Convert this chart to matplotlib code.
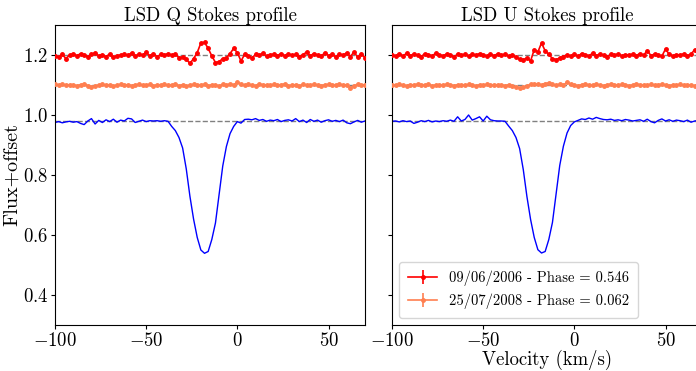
import numpy as np
import matplotlib
matplotlib.use('Agg')
import matplotlib.pyplot as plt

plt.rcParams['font.family'] = 'serif'
plt.rcParams['font.serif'] = ['cmr10']
plt.rcParams['mathtext.fontset'] = 'cm'
plt.rcParams['axes.formatter.use_mathtext'] = True

# LSD velocity grid (km/s)
velocity = np.arange(-100, 71, 2)

# Stokes I (flux) shown under each panel
flux_q = [0.975, 0.978, 0.974, 0.977, 0.979, 0.976, 0.978, 0.972, 0.968, 0.980,
          0.988, 0.970, 0.982, 0.975, 0.984, 0.978, 0.986, 0.976, 0.983, 0.980,
          0.989, 0.987, 0.975, 0.979, 0.983, 0.978, 0.981, 0.980, 0.981, 0.979,
          0.981, 0.979, 0.962, 0.948, 0.925, 0.890, 0.820, 0.729, 0.653, 0.592,
          0.550, 0.539, 0.545, 0.585, 0.640, 0.735, 0.830, 0.895, 0.938, 0.962,
          0.978, 0.973, 0.985, 0.986, 0.984, 0.988, 0.982, 0.985, 0.979, 0.983,
          0.981, 0.985, 0.978, 0.982, 0.984, 0.980, 0.988, 0.978, 0.983, 0.975,
          0.985, 0.979, 0.983, 0.976, 0.981, 0.984, 0.979, 0.982, 0.978, 0.983,
          0.974, 0.971, 0.977, 0.982, 0.976, 0.980]
flux_u = [0.979, 0.980, 0.977, 0.981, 0.978, 0.980, 0.972, 0.976, 0.981, 0.978,
          0.982, 0.977, 0.980, 0.978, 0.981, 0.979, 0.983, 0.979, 0.994, 0.980,
          0.985, 1.000, 0.983, 0.988, 0.994, 0.980, 0.996, 0.984, 0.981, 0.980,
          0.980, 0.979, 0.963, 0.948, 0.925, 0.888, 0.818, 0.728, 0.652, 0.592,
          0.551, 0.540, 0.545, 0.585, 0.642, 0.737, 0.832, 0.896, 0.940, 0.965,
          0.977, 0.982, 0.987, 0.985, 0.990, 0.986, 0.992, 0.988, 0.985, 0.984,
          0.986, 0.982, 0.984, 0.981, 0.985, 0.983, 0.980, 0.982, 0.984, 0.979,
          0.986, 0.978, 0.974, 0.982, 0.987, 0.980, 0.984, 0.979, 0.983, 0.981,
          0.978, 0.983, 0.976, 0.980, 0.982, 0.979]

# Stokes Q and U, in units of 1e-3
q_2006 = [-3, -8, 2, -12, 0, 3, -2, 4, 0, -6,
          2, 8, -3, 1, -5, 3, -8, -2, 0, 2,
          -1, 7, -4, 3, 0, 9, -3, 5, -6, 2,
          0, 5, -1, 3, -9, -6, -14, -28, -12, 8,
          40, 42, 22, -3, -25, -22, -12, -10, 5, 22,
          8, -20, 2, -3, -10, 2, 0, 6, -4, 1,
          3, -2, 5, -3, 4, -1, 2, -6, 1, 10,
          -3, 5, 0, -4, 8, -2, 3, -7, 2, 0,
          7, -5, 10, -8, 5, -10]
q_2008 = [2, 0, 3, -1, 1, 0, -2, 1, 3, -2,
          -6, -3, 0, 2, -1, 1, -4, 0, 2, -1,
          1, -2, 0, 3, -1, 0, 2, -3, 1, 0,
          2, -1, 0, 3, -2, 1, -4, 0, 2, -1,
          0, 3, -2, 1, 0, -3, 2, 0, 4, 1,
          9, 3, -1, 2, 0, -2, 3, 1, -1, 0,
          2, -1, 1, 4, -2, 0, 1, -3, 2, 0,
          -1, 3, 0, -2, 1, 2, -1, 0, 3, -1,
          1, -9, -2, 2, 0, 1]
u_2006 = [0, -3, 5, -4, 6, -2, 3, 0, -5, 4,
          1, -3, 6, 0, -2, 3, 1, -8, 4, 0,
          2, -4, 3, -1, 5, 0, -3, 2, -2, 4,
          -1, 3, -4, 1, -8, -14, -16, -10, -20, 18,
          10, 40, 14, 2, -12, -15, -10, -5, 0, -3,
          2, -4, 5, 1, -3, 6, -2, 3, 0, -5,
          2, -1, 4, -3, 1, 0, 3, -2, 5, -1,
          15, -2, 3, 0, -4, 20, 2, -3, 1, 0,
          4, -2, 3, 18, -1, 2]
u_2008 = [1, -1, 2, 0, -2, 1, 0, 3, -1, 0,
          2, -2, 0, 1, -1, 3, 0, -2, 1, 0,
          -1, 2, 0, -3, 1, 0, 2, -1, 0, 1,
          0, -2, 1, -4, -6, -9, -7, -3, 2, 4,
          3, 1, 5, 7, 2, -1, 3, 0, 9, 2,
          0, -2, 1, 3, 0, -1, 2, 0, -2, 1,
          3, 0, -1, 2, 1, -2, 0, 3, 1, -1,
          0, 2, -1, 1, 3, 0, -2, 1, 0, 2,
          -1, 1, 0, -2, 1, 0]

pol_err = 0.002
labels = ['09/06/2006 - Phase = 0.546', '25/07/2008 - Phase = 0.062']
offsets = [1.2, 1.1]
continuum = 0.98

fig = plt.figure(figsize=(6.96, 3.71), dpi=100)
ax1 = fig.add_axes([0.079, 0.124, 0.4454, 0.8086])
ax2 = fig.add_axes([0.5632, 0.124, 0.4454, 0.8086], sharey=ax1)

panels = [(ax1, 'LSD Q Stokes profile', [q_2006, q_2008], flux_q),
          (ax2, 'LSD U Stokes profile', [u_2006, u_2008], flux_u)]
colors = ['red', 'coral']

for ax, title, pol, flux in panels:
    for off in offsets + [continuum]:
        ax.axhline(off, color='gray', ls='--', lw=1, zorder=1)
    for vals, off, c, lab in zip(pol, offsets, colors, labels):
        ax.errorbar(velocity, off + np.array(vals) / 1000., yerr=pol_err,
                    fmt='.-', color=c, ms=5, lw=1.2, label=lab, zorder=3)
    ax.plot(velocity, flux, color='blue', lw=1, zorder=2)
    ax.set_title(title, fontsize=13.5, pad=3)
    ax.set_xlim(-100, 70)
    ax.set_ylim(0.3, 1.3)
    ax.set_xticks([-100, -50, 0, 50])
    ax.tick_params(labelsize=13.5, length=3, pad=2)

ax1.set_ylabel('Flux+offset', fontsize=14.5, labelpad=1)
ax2.set_xlabel('Velocity (km/s)', fontsize=13.5, labelpad=0)
ax2.tick_params(labelleft=False)
ax2.legend(loc='lower left', fontsize=10.5, borderpad=0.6)

fig.savefig('out.png', dpi=100)
